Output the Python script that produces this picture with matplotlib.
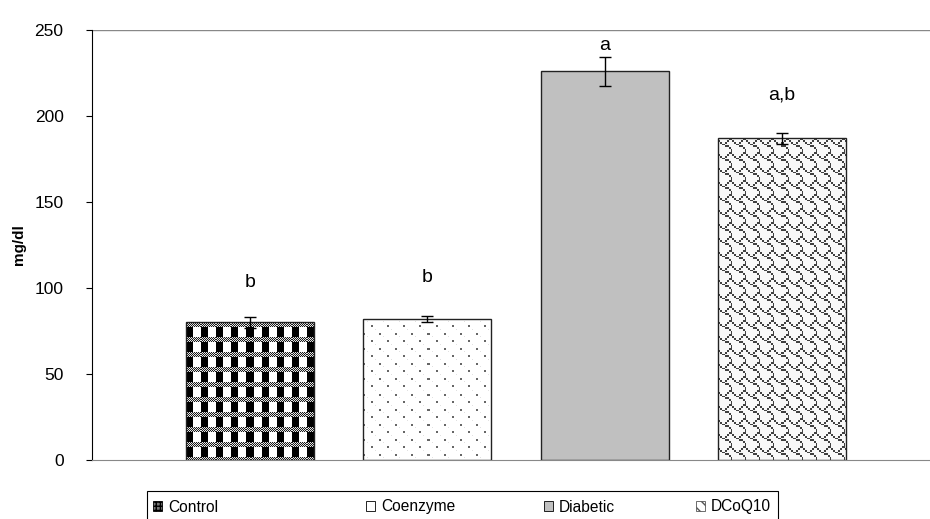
import numpy as np
import matplotlib
matplotlib.use('Agg')
import matplotlib.pyplot as plt
from matplotlib.patches import Patch, Rectangle

plt.rcParams.update({'font.family': ['Liberation Sans', 'DejaVu Sans'], 'font.size': 10})

groups = ['Control', 'Coenzyme', 'Diabetic', 'DCoQ10']
means = [80, 82, 226, 187]
errors = [3, 1.7, 8.3, 3]
letters = ['b', 'b', 'a', 'a,b']
letter_y = [103, 106, 241, 212]

# Excel-like fill patterns (tiles in screen pixels)
SHINGLE = [0x03, 0x84, 0x48, 0x30, 0x0c, 0x02, 0x01, 0x01]


def plaid_tile():
	t = np.ones((15, 15))
	yy, xx = np.mgrid[0:5, 0:15]
	t[0:5, :] = np.where((yy + xx) % 2 == 0, 0.1, 0.9)
	t[5:15, 0:7] = 0.0
	return t


def dots_tile():
	t = np.ones((15, 16))
	t[0:2, 0:2] = 0.4
	t[7:9, 8:10] = 0.4
	t[3, 4] = t[11, 12] = 0.88
	return t


def shingle_tile(p=14):
	bits = np.array([[(row >> (7 - c)) & 1 for c in range(8)] for row in SHINGLE])
	idx = (np.arange(p) * 8) // p
	big = bits[np.ix_(idx, idx)]
	return np.where(big == 1, 0.25, 0.97)


def texture(ax, patch, tile):
	x0, y0 = patch.get_x(), patch.get_y()
	w, h = patch.get_width(), patch.get_height()
	(px0, py0), (px1, py1) = ax.transData.transform([(x0, y0), (x0 + w, y0 + h)])
	nw, nh = max(int(round(px1 - px0)), 1), max(int(round(py1 - py0)), 1)
	reps = (nh // tile.shape[0] + 2, nw // tile.shape[1] + 2)
	img = np.tile(tile, reps)[:nh, :nw]
	im = ax.imshow(img, cmap='gray', vmin=0, vmax=1, extent=(x0, x0 + w, y0, y0 + h),
				   origin='upper', interpolation='nearest', aspect='auto', zorder=1.5)
	im.set_clip_path(patch)


fig = plt.figure(figsize=(9.3, 5.19), dpi=100)
ax = fig.add_axes([92 / 930, 59 / 519, 838 / 930, 430 / 519])

x = np.arange(len(groups))
ax.set_xlim(-0.891, 3.835)
ax.set_ylim(0, 250)

faces = ['none', 'none', '#c0c0c0', 'none']
bars = ax.bar(x, means, width=0.722, color=faces, edgecolor='#222222', linewidth=1.0, zorder=2)

texture(ax, bars[0], plaid_tile())
texture(ax, bars[1], dots_tile())
texture(ax, bars[3], shingle_tile())

ax.errorbar(x, means, yerr=errors, fmt='none', ecolor='black', elinewidth=1.0,
			capsize=4.5, capthick=1.0, zorder=3)

for xi, lab, ly in zip(x, letters, letter_y):
	ax.text(xi, ly, lab, ha='center', va='center', fontsize=14)

ax.axhline(250, color='#888888', linewidth=1.0, zorder=0)
for s in ['top', 'right']:
	ax.spines[s].set_visible(False)
ax.spines['bottom'].set_color('#888888')
ax.spines['left'].set_color('black')
ax.set_xticks([])
ax.set_yticks([0, 50, 100, 150, 200, 250])
ax.tick_params(axis='y', direction='out', length=4.5, labelsize=12.5, pad=16)
ax.set_ylabel('mg/dl', fontweight='bold', fontsize=11)
ax.yaxis.set_label_coords(-0.079, 0.5)

# legend: box plus four entries
fig.add_artist(Rectangle((147 / 930, -0.02), 631 / 930, 0.02 + 28 / 519, transform=fig.transFigure,
						 fill=False, edgecolor='black', linewidth=0.8))
handles = [
	Patch(facecolor='#777777', edgecolor='black', hatch='++++', linewidth=0.6),
	Patch(facecolor='white', edgecolor='black', linewidth=0.6),
	Patch(facecolor='#c0c0c0', edgecolor='black', linewidth=0.6),
	Patch(facecolor='white', edgecolor='#555555', hatch='\\\\\\', linewidth=0.6),
]
entry_x = [153, 366, 544, 696]
for h, lab, ex in zip(handles, groups, entry_x):
	fig.legend([h], [lab], loc='center left', bbox_to_anchor=(ex / 930, 12 / 519),
			   frameon=False, fontsize=11.2, handlelength=0.6, handleheight=0.6,
			   handletextpad=0.35, borderpad=0, borderaxespad=0)

fig.savefig('out.png', dpi=100)
